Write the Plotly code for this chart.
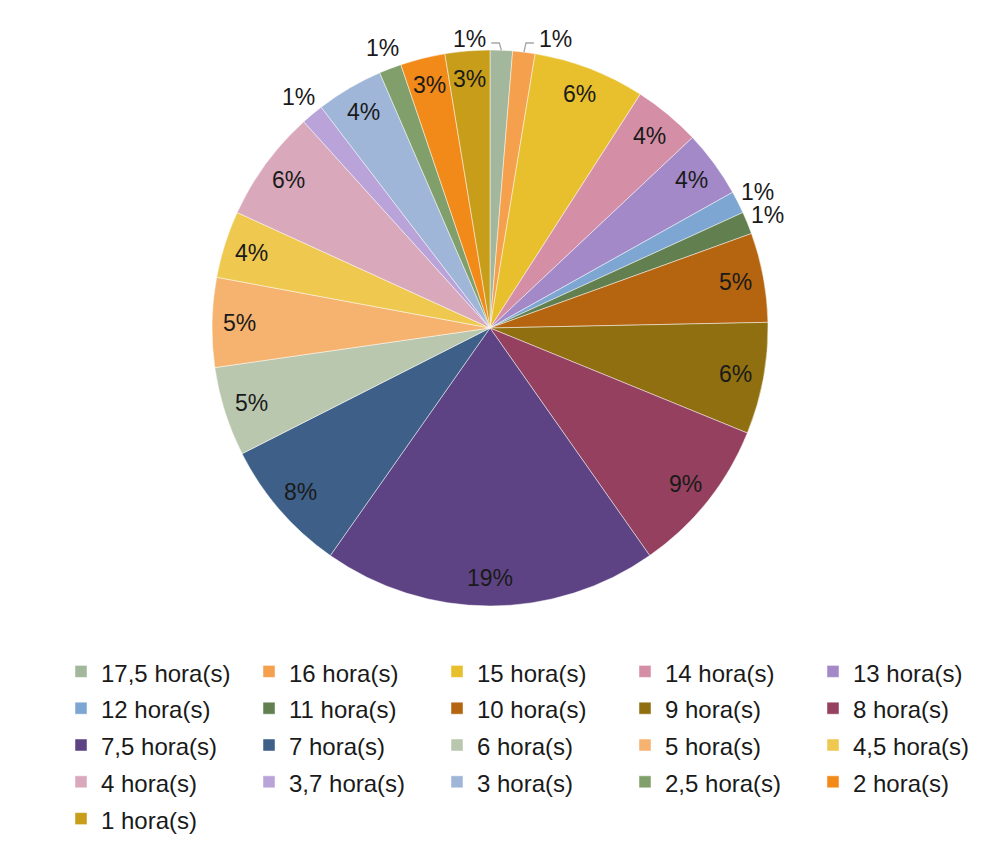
import math
import plotly.graph_objects as go

# Respondents per reported number of hours
labels = ["17,5 hora(s)", "16 hora(s)", "15 hora(s)", "14 hora(s)", "13 hora(s)",
          "12 hora(s)", "11 hora(s)", "10 hora(s)", "9 hora(s)", "8 hora(s)",
          "7,5 hora(s)", "7 hora(s)", "6 hora(s)", "5 hora(s)", "4,5 hora(s)",
          "4 hora(s)", "3,7 hora(s)", "3 hora(s)", "2,5 hora(s)", "2 hora(s)",
          "1 hora(s)"]
counts = [1, 1, 5, 3, 3, 1, 1, 4, 5, 7, 15, 6, 4, 4, 3, 5, 1, 3, 1, 2, 2]
colors = ["#a2b79b", "#f4a04c", "#e8bf2c", "#d48fa6", "#a389c8",
          "#7ea6d2", "#627f50", "#b5640f", "#8f6f10", "#95405e",
          "#5d4383", "#3e5f88", "#b9c7ae", "#f5b36f", "#efc94f",
          "#d9a9bb", "#b9a3d9", "#9fb6d9", "#809f6b", "#f18a18",
          "#c89d1a"]

W, H = 1001, 843
CX, CY, R = 490, 328, 278          # pie centre and radius in pixels
FONT = "Liberation Sans, Arial, sans-serif"


def px(x):
    return x / W


def py(y):
    return 1 - y / H


# legend rows are spaced by the legend font size; the visible text is a bit smaller
legend_labels = [f"<span style='font-size:24px'>{t}</span>" for t in labels]

fig = go.Figure(go.Pie(
    labels=legend_labels,
    values=counts,
    sort=False,
    direction="clockwise",
    rotation=0,
    marker=dict(colors=colors, line=dict(color="rgba(255,255,255,0.6)", width=0.8)),
    textinfo="none",
    hoverinfo="label+percent",
    domain=dict(x=[px(CX - R), px(CX + R)], y=[py(CY + R), py(CY - R)]),
))

# percentage labels placed along each slice's mid-angle
total = sum(counts)
cum = 0
annotations = []
shapes = []
for i, c in enumerate(counts):
    mid = (cum + c / 2) / total * 2 * math.pi
    cum += c
    pct = f"{round(100 * c / total)}%"
    s, co = math.sin(mid), math.cos(mid)
    if c / total >= 0.02:
        r = 0.9 * R
        x, y = CX + r * s, CY - r * co
    elif i < 2:
        # two thin top slices: label lifted above the rim with an elbow leader
        rx, ry = CX + R * s, CY - R * co
        ly = CY - R - 7
        side = -1 if i == 0 else 1
        ex = rx + side * 10
        shapes.append(dict(type="path", xref="paper", yref="paper",
                           path=f"M {px(rx)} {py(ry)} L {px(rx + side * 2)} {py(ly)} L {px(ex)} {py(ly)}",
                           line=dict(color="#a6a6a6", width=1.3)))
        x, y = ex + side * 22, ly - 4
    else:
        r = 1.08 * R
        x, y = CX + r * s, CY - r * co
    annotations.append(dict(x=px(x), y=py(y), xref="paper", yref="paper",
                            text=pct, showarrow=False,
                            xanchor="center", yanchor="middle",
                            font=dict(family=FONT, size=23, color="#1a1a1a")))

fig.update_layout(
    width=W, height=H,
    margin=dict(l=0, r=0, t=0, b=0),
    paper_bgcolor="white",
    plot_bgcolor="white",
    annotations=annotations,
    shapes=shapes,
    legend=dict(
        orientation="h",
        x=1, y=0, xanchor="right", yanchor="bottom",
        entrywidth=143, entrywidthmode="pixels",
        font=dict(family=FONT, size=26, color="#1a1a1a"),
        traceorder="normal",
    ),
    showlegend=True,
)

fig.write_html("out.html")
